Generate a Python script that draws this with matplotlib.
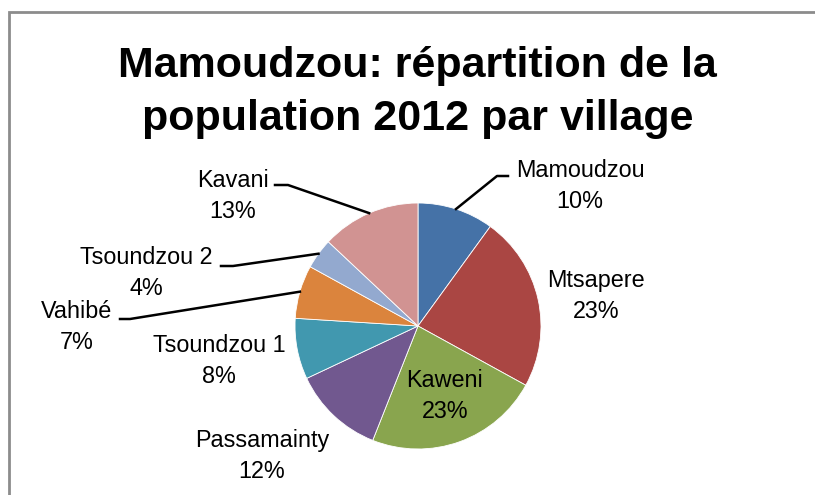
import matplotlib.pyplot as plt
import numpy as np

villages = ['Mamoudzou', 'Mtsapere', 'Kaweni', 'Passamainty',
            'Tsoundzou 1', 'Vahibé', 'Tsoundzou 2', 'Kavani']
shares = [10, 23, 23, 12, 8, 7, 4, 13]
colors = ['#4572A7', '#AA4643', '#89A54E', '#71588F',
          '#4198AF', '#DB843D', '#93A9CF', '#D19392']

W, H = 815, 495
plt.rcParams['font.family'] = ['Liberation Sans', 'DejaVu Sans']

fig = plt.figure(figsize=(W / 100, H / 100), dpi=100)
ax = fig.add_axes([0, 0, 1, 1])

cx, cy, r = 418, H - 326, 123
wedges, _ = ax.pie(shares, colors=colors, startangle=90, counterclock=False,
                   center=(cx, cy), radius=r,
                   wedgeprops=dict(edgecolor='white', linewidth=0.6))
ax.set_xlim(0, W)
ax.set_ylim(0, H)
ax.set_aspect('equal')
ax.axis('off')

# frame (only left and top edges visible)
ax.plot([8.5, 8.5, W + 5], [-5, H - 11.5, H - 11.5], color='#8c8c8c', lw=2,
        solid_joinstyle='miter')

ax.text(W / 2 + 10, H - 77, 'Mamoudzou: répartition de la', ha='center',
        va='baseline', fontsize=31, fontweight='bold')
ax.text(W / 2 + 10, H - 130, 'population 2012 par village', ha='center',
        va='baseline', fontsize=31, fontweight='bold')

# label block centres (pixels from top-left) and leader elbows
label_pos = {
    'Mamoudzou': (580, 186),
    'Mtsapere': (596, 296),
    'Kaweni': (445, 396),
    'Passamainty': (262, 456),
    'Tsoundzou 1': (219, 361),
    'Vahibé': (77, 327),
    'Tsoundzou 2': (146, 273),
    'Kavani': (233, 196),
}
elbows = {
    'Mamoudzou': [(508, 176), (497, 176)],
    'Kavani': [(275, 185), (288, 185)],
    'Tsoundzou 2': [(221, 266), (233, 266)],
    'Vahibé': [(120, 319), (130, 319)],
}

for w, name, pct in zip(wedges, villages, shares):
    x, y = label_pos[name]
    ax.text(x, H - y, f'{name}\n{pct}%', ha='center', va='center',
            fontsize=16.8, linespacing=1.45)
    if name in elbows:
        mid = np.deg2rad((w.theta1 + w.theta2) / 2)
        ex, ey = cx + r * np.cos(mid), cy + r * np.sin(mid)
        pts = [(px, H - py) for px, py in elbows[name]] + [(ex, ey)]
        xs, ys = zip(*pts)
        ax.plot(xs, ys, color='black', lw=1.8)

plt.savefig('out.png', dpi=100)
